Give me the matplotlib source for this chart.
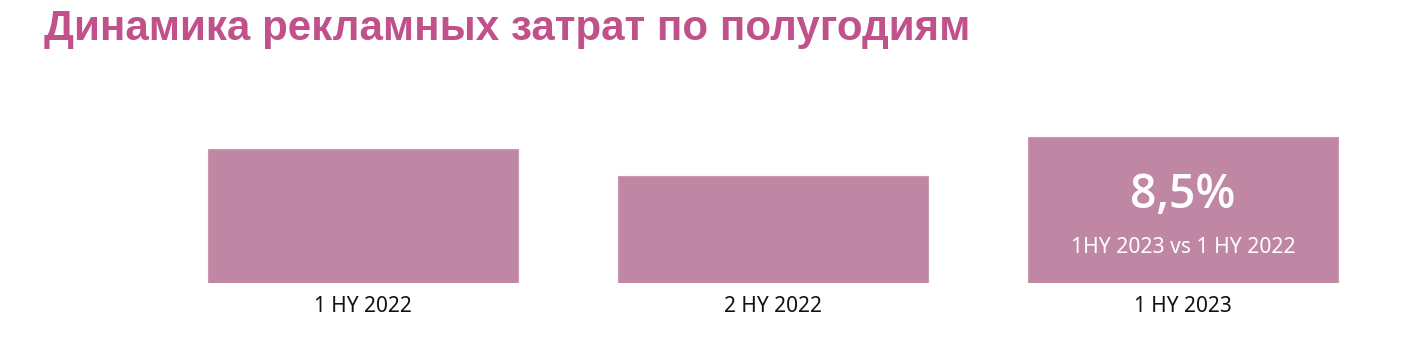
import matplotlib
matplotlib.use("Agg")
import matplotlib.pyplot as plt

categories = ["1 HY 2022", "2 HY 2022", "1 HY 2023"]
values = [134, 107, 146]
growth_label = "8,5%"
growth_note = "1HY 2023 vs 1 HY 2022"
title = "Динамика рекламных затрат по полугодиям"

bar_color = "#BF87A3"
title_color = "#C0518A"
font = "Noto Sans"

fig = plt.figure(figsize=(14.02, 3.46), dpi=100)
W, H = 1402, 346
ax = fig.add_axes([158 / W, (H - 283) / H, 1230 / W, 183 / H])
x = list(range(len(categories)))
ax.bar(x, values, width=310 / 410, color=bar_color, edgecolor="#C99AB1", linewidth=0.8)
ax.set_xlim(-0.5, 2.5)
ax.set_ylim(0, 183)
ax.set_xticks(x)
ax.set_xticklabels(categories, fontsize=15, fontfamily=font, color="#111111")
ax.tick_params(axis="x", length=0, pad=9)
ax.set_yticks([])
for s in ax.spines.values():
    s.set_visible(False)

ax.text(2, values[2] * 0.60, growth_label, ha="center", va="center", color="white",
        fontsize=33.5, fontfamily="Open Sans", fontweight="semibold")
ax.text(2, values[2] * 0.24, growth_note, ha="center", va="center", color="white",
        fontsize=15.2, fontfamily=font)

fig.text(44 / W, 1 - 29 / H, title, ha="left", va="center", color=title_color,
         fontsize=30.3, fontweight="bold", fontfamily="Liberation Sans")

fig.savefig("out.png", dpi=100)
